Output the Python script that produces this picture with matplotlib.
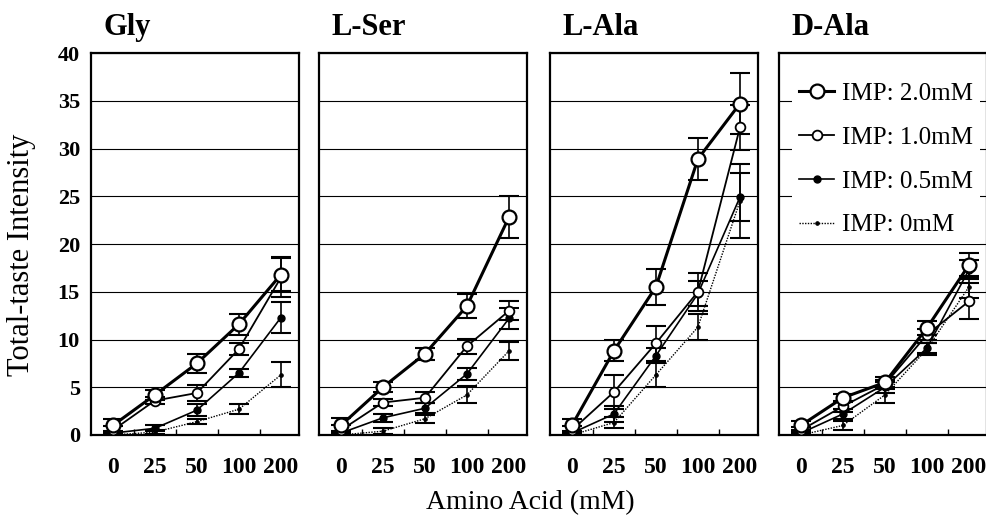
import numpy as np
import matplotlib
matplotlib.use("Agg")
import matplotlib.pyplot as plt
from matplotlib.lines import Line2D

plt.rcParams["font.family"] = ["Liberation Serif", "DejaVu Serif"]

# concentrations (category axis)
conc = ["0", "25", "50", "100", "200"]
panels = ["Gly", "L-Ser", "L-Ala", "D-Ala"]
series = ["IMP: 2.0mM", "IMP: 1.0mM", "IMP: 0.5mM", "IMP: 0mM"]

# mean values per panel, order of series
gly_imp20 = [1.0, 4.2, 7.5, 11.6, 16.8]
gly_imp10 = [0.5, 3.6, 4.4, 9.0, 16.5]
gly_imp05 = [0.2, 0.7, 2.6, 6.5, 12.3]
gly_imp00 = [0.0, 0.3, 1.4, 2.7, 6.3]
gly_err20 = [0.7, 0.5, 1.0, 1.1, 1.7]
gly_err10 = [0.4, 0.4, 0.8, 0.6, 2.1]
gly_err05 = [0.2, 0.3, 0.6, 0.4, 1.6]
gly_err00 = [0.1, 0.2, 0.3, 0.5, 1.3]

ser_imp20 = [1.0, 5.0, 8.5, 13.5, 22.8]
ser_imp10 = [0.5, 3.4, 3.9, 9.3, 13.0]
ser_imp05 = [0.2, 1.8, 2.8, 6.4, 12.2]
ser_imp00 = [0.0, 0.4, 1.7, 4.2, 8.8]
ser_err20 = [0.8, 0.5, 0.6, 1.3, 2.2]
ser_err10 = [0.5, 0.4, 0.6, 0.8, 1.0]
ser_err05 = [0.2, 0.4, 0.5, 0.6, 1.1]
ser_err00 = [0.1, 0.3, 0.4, 0.9, 0.9]

lala_imp20 = [1.0, 8.8, 15.5, 28.9, 34.7]
lala_imp10 = [0.5, 4.5, 9.6, 15.0, 32.2]
lala_imp05 = [0.2, 2.2, 8.3, 14.8, 24.9]
lala_imp00 = [0.0, 1.3, 6.3, 11.3, 24.5]
lala_err20 = [0.7, 1.1, 1.9, 2.2, 3.2]
lala_err10 = [0.4, 1.8, 1.8, 2.0, 2.4]
lala_err05 = [0.2, 0.8, 0.8, 1.3, 2.5]
lala_err00 = [0.1, 0.6, 1.3, 1.4, 3.9]

dala_imp20 = [1.0, 3.9, 5.5, 11.2, 17.8]
dala_imp10 = [0.5, 3.0, 5.3, 10.5, 14.0]
dala_imp05 = [0.2, 2.2, 5.0, 9.1, 17.3]
dala_imp00 = [0.0, 1.0, 4.2, 9.0, 15.5]
dala_err20 = [0.5, 0.4, 0.6, 0.7, 1.3]
dala_err10 = [0.3, 0.6, 0.5, 0.6, 1.9]
dala_err05 = [0.2, 0.5, 0.6, 0.5, 1.0]
dala_err00 = [0.1, 0.5, 0.8, 0.6, 1.2]

means = [
    [gly_imp20, gly_imp10, gly_imp05, gly_imp00],
    [ser_imp20, ser_imp10, ser_imp05, ser_imp00],
    [lala_imp20, lala_imp10, lala_imp05, lala_imp00],
    [dala_imp20, dala_imp10, dala_imp05, dala_imp00],
]
errs = [
    [gly_err20, gly_err10, gly_err05, gly_err00],
    [ser_err20, ser_err10, ser_err05, ser_err00],
    [lala_err20, lala_err10, lala_err05, lala_err00],
    [dala_err20, dala_err10, dala_err05, dala_err00],
]

# line styles for each IMP level
styles = [
    dict(lw=2.2, ls="-", marker="o", ms=10, mfc="white", mew=1.6),
    dict(lw=1.3, ls="-", marker="o", ms=7, mfc="white", mew=1.3),
    dict(lw=1.2, ls="-", marker="o", ms=5, mfc="black", mew=1.0),
    dict(lw=1.0, ls=(0, (1, 1)), marker="o", ms=2.5, mfc="black", mew=0.8),
]

fig = plt.figure(figsize=(9.86, 5.22), dpi=100)
x = np.arange(len(conc))

lefts = [91, 319, 550, 779]
for p, name in enumerate(panels):
    ax = fig.add_axes([lefts[p] / 986, 87 / 522, 208 / 986, 382 / 522])
    for s in range(4):
        st = styles[s]
        ax.errorbar(x, means[p][s], yerr=errs[p][s], fmt="none", ecolor="black",
                    elinewidth=1.2, capsize=7, capthick=1.5, zorder=3)
        ax.plot(x, means[p][s], color="black", mec="black", zorder=4 + (3 - s), **st)

    ax.set_xlim(-0.52, 4.43)
    ax.set_ylim(0, 40)
    ax.set_yticks(np.arange(0, 41, 5))
    ax.yaxis.grid(True, color="black", lw=0.8)
    ax.set_axisbelow(True)
    ax.set_xticks(x)
    ax.set_xticklabels(conc, fontsize=17, fontweight="bold")
    ax.set_xticks(x[:-1] + 0.5, minor=True)
    ax.tick_params(axis="x", which="major", length=0, pad=16)
    ax.tick_params(axis="x", which="minor", direction="in", length=4, width=1)
    ax.tick_params(axis="y", length=0, pad=8, labelsize=16)
    for lab in ax.get_yticklabels():
        lab.set_fontweight("bold")
    if p > 0:
        ax.set_yticklabels([])
    for sp in ax.spines.values():
        sp.set_linewidth(1.6)
    ax.text(0.06, 1.03, name, transform=ax.transAxes, fontsize=22,
            fontweight="bold", ha="left", va="bottom")

    if p == 3:
        handles = [Line2D([], [], color="black", mec="black", **styles[s]) for s in range(4)]
        leg = ax.legend(handles, series, loc="upper left", bbox_to_anchor=(0.0, 0.975),
                        fontsize=18, handlelength=1.4, handletextpad=0.3,
                        labelspacing=0.85, borderpad=0.3, frameon=True, fancybox=False)
        leg.get_frame().set_facecolor("white")
        leg.get_frame().set_edgecolor("none")
        leg.get_frame().set_alpha(1)

fig.text(22 / 986, 1 - 255 / 522, "Total-taste Intensity", rotation=90,
         fontsize=22, ha="center", va="center")
fig.text(530 / 986, 1 - 503 / 522, "Amino Acid (mM)", fontsize=20,
         ha="center", va="center")

plt.savefig("out.png", dpi=100)
plt.close()
